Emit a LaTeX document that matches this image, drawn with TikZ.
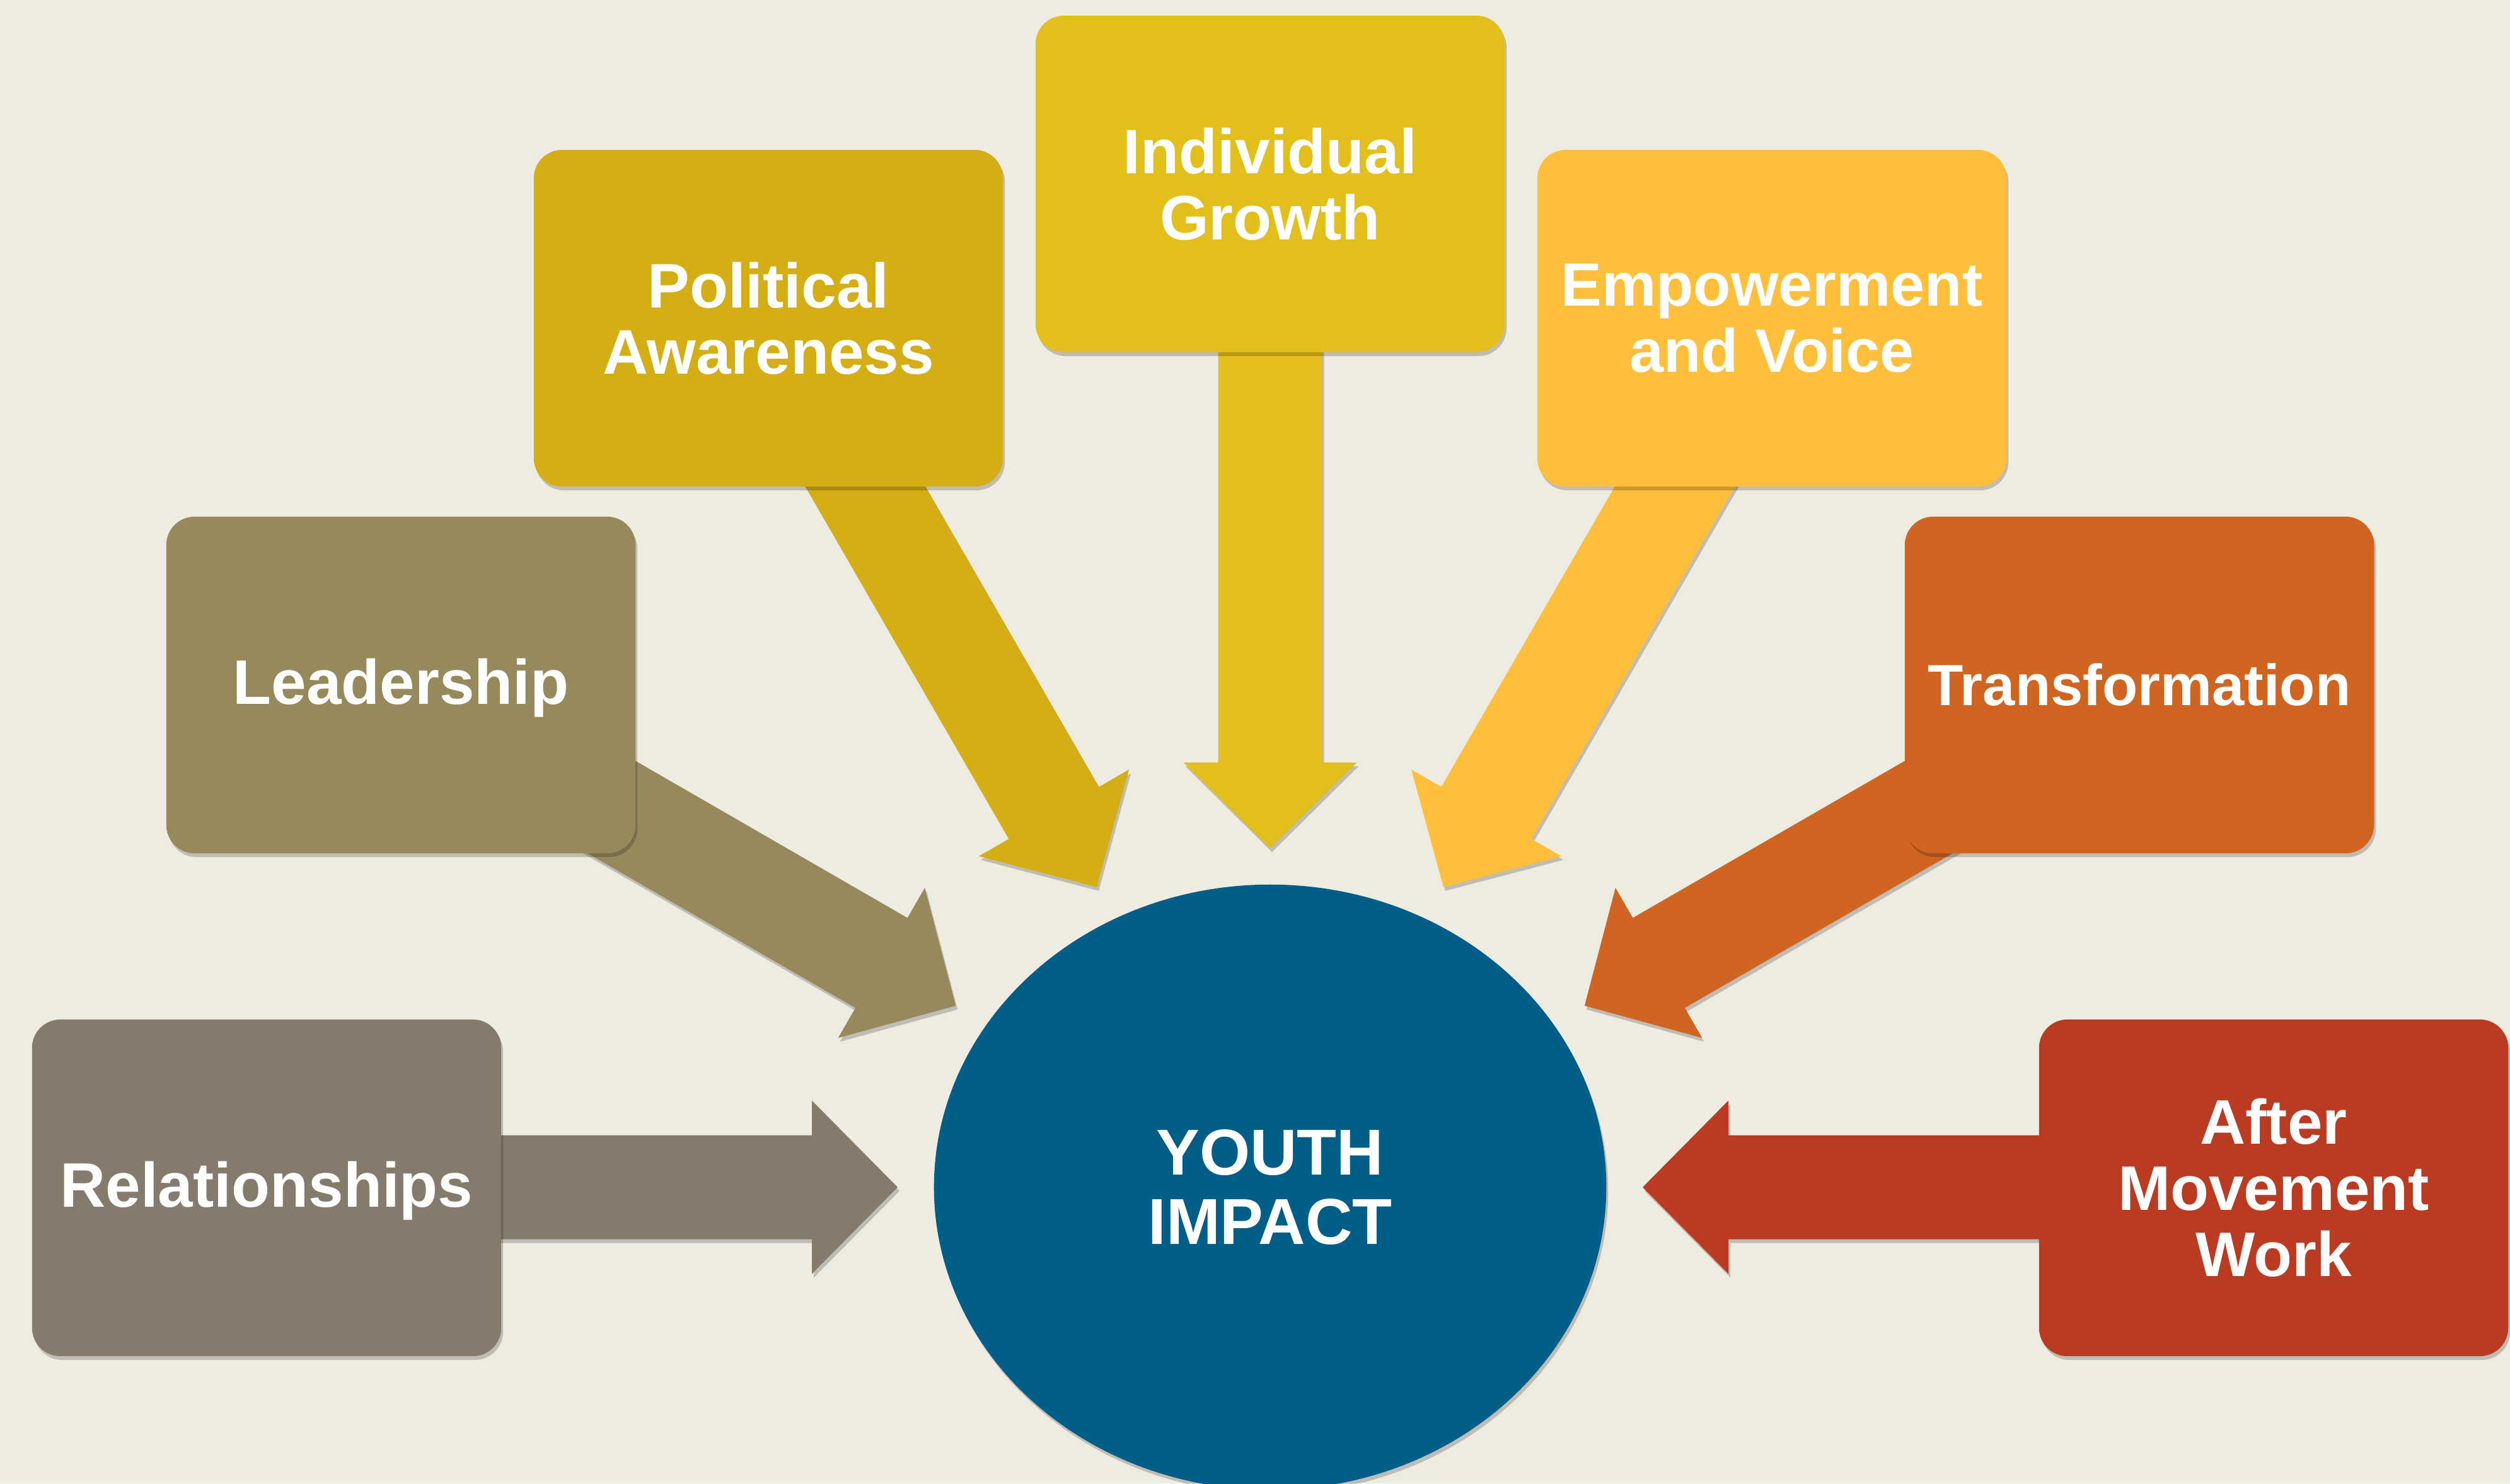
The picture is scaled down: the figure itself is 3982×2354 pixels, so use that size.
\documentclass[tikz,border=0pt]{standalone}
\usepackage{fontspec}
\setmainfont{Liberation Sans}
\usetikzlibrary{shapes.geometric,shadows}
\definecolor{bg}{HTML}{EEECE1}
\definecolor{crel}{HTML}{847B6C}
\definecolor{clead}{HTML}{968A5C}
\definecolor{cpol}{HTML}{D4AE14}
\definecolor{cind}{HTML}{E3BF1C}
\definecolor{cemp}{HTML}{FFBF3A}
\definecolor{ctrans}{HTML}{D06522}
\definecolor{cafter}{HTML}{BB3A22}
\definecolor{cyouth}{HTML}{005E89}
\tikzset{
  shad/.style={drop shadow={shadow xshift=0.3mm,shadow yshift=-0.6mm,opacity=0.2,fill=black}},
  boxnode/.style={shad,rounded corners=0.45cm,minimum width=7.44cm,minimum height=5.34cm,
    inner sep=0pt,text=white,align=center,
    font=\bfseries\fontsize{28.4}{29.9}\selectfont},
  oneline/.style={text height=22pt,text depth=4.4pt},
  blockarrow/.style={shad},
}
\begin{document}
\begin{tikzpicture}[x=0.01cm,y=-0.01cm]
\fill[bg] (0,0) rectangle (3982,2354);
\useasboundingbox (0,0) rectangle (3982,2354);
\coordinate (c) at (2015,1884);
% block arrows
\foreach \a/\t/\col in {180/591/crel,150/576/clead,120/550/cpol,90/538/cind,60/550/cemp,30/576/ctrans,0/591/cafter}{
  \begin{scope}[shift={(c)},rotate=\a]
    \fill[\col,blockarrow] (\t,0) -- ({\t+136},137.5) -- ({\t+136},82.5) -- (1592,82.5)
      -- (1592,-82.5) -- ({\t+136},-82.5) -- ({\t+136},-137.5) -- cycle;
  \end{scope}
}
% boxes
\node[boxnode,oneline,fill=crel] (rel) at (423,1885) {Relationships};
\node[boxnode,oneline,fill=clead] (lead) at (636,1087) {Leadership};
\node[boxnode,fill=cpol] (pol) at (1219,505) {Political\\Awareness};
\node[boxnode,fill=cind] (ind) at (2015,292) {Individual\\Growth};
\node[boxnode,fill=cemp,font=\bfseries\fontsize{27.6}{29.9}\selectfont] (emp) at (2811,505) {Empowerment\\and Voice};
\node[boxnode,fill=ctrans,font=\bfseries\fontsize{26.2}{29.9}\selectfont] (trans) at (3394,1087) {Transformation};
\node[boxnode,fill=cafter] (after) at (3607,1885) {After\\Movement\\Work};
% centre ellipse
\node[ellipse,shad,fill=cyouth,minimum width=10.66cm,minimum height=9.6cm,inner sep=0pt,
  text=white,align=center,font=\bfseries\fontsize{29.3}{31.3}\selectfont] (yi) at (c) {YOUTH\\IMPACT};
\end{tikzpicture}
\end{document}
